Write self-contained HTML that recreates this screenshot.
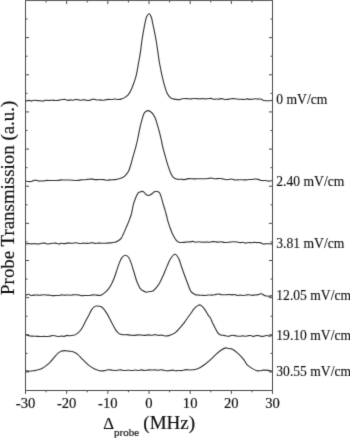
<!DOCTYPE html>
<html><head><meta charset="utf-8"><style>
html,body{margin:0;padding:0;background:#fff;}
body{width:350px;height:438px;overflow:hidden;}
svg{display:block;will-change:transform;}
text{font-family:"Liberation Serif",serif;fill:#111;stroke:#111;stroke-width:0.18px;}
.rl text{stroke-width:0.12px;}
</style></head><body>
<svg width="350" height="438" viewBox="0 0 350 438">
<defs><filter id="b" filterUnits="userSpaceOnUse" x="0" y="0" width="350" height="438"><feConvolveMatrix order="3" kernelMatrix="0.01134 0.08382 0.01134 0.08382 0.61935 0.08382 0.01134 0.08382 0.01134" divisor="1" edgeMode="none"/></filter></defs>
<rect width="350" height="438" fill="#fff"/>
<g filter="url(#b)">
<path d="M25.50,0.50 H272.50 V390.50 H25.50 Z" fill="none" stroke="#484848" stroke-width="1"/>
<path d="M25.50,390.50V393.90 M25.50,0.50V4.10 M46.08,390.50V392.30 M46.08,0.50V2.50 M66.67,390.50V393.90 M66.67,0.50V4.10 M87.25,390.50V392.30 M87.25,0.50V2.50 M107.83,390.50V393.90 M107.83,0.50V4.10 M128.42,390.50V392.30 M128.42,0.50V2.50 M149.00,390.50V393.90 M149.00,0.50V4.10 M169.58,390.50V392.30 M169.58,0.50V2.50 M190.17,390.50V393.90 M190.17,0.50V4.10 M210.75,390.50V392.30 M210.75,0.50V2.50 M231.33,390.50V393.90 M231.33,0.50V4.10 M251.92,390.50V392.30 M251.92,0.50V2.50 M272.50,390.50V393.90 M272.50,0.50V4.10 M25.50,0.50H29.10 M272.50,0.50H268.90 M25.50,19.07H27.50 M272.50,19.07H270.50 M25.50,37.64H29.10 M272.50,37.64H268.90 M25.50,56.21H27.50 M272.50,56.21H270.50 M25.50,74.79H29.10 M272.50,74.79H268.90 M25.50,93.36H27.50 M272.50,93.36H270.50 M25.50,111.93H29.10 M272.50,111.93H268.90 M25.50,130.50H27.50 M272.50,130.50H270.50 M25.50,149.07H29.10 M272.50,149.07H268.90 M25.50,167.64H27.50 M272.50,167.64H270.50 M25.50,186.21H29.10 M272.50,186.21H268.90 M25.50,204.79H27.50 M272.50,204.79H270.50 M25.50,223.36H29.10 M272.50,223.36H268.90 M25.50,241.93H27.50 M272.50,241.93H270.50 M25.50,260.50H29.10 M272.50,260.50H268.90 M25.50,279.07H27.50 M272.50,279.07H270.50 M25.50,297.64H29.10 M272.50,297.64H268.90 M25.50,316.21H27.50 M272.50,316.21H270.50 M25.50,334.79H29.10 M272.50,334.79H268.90 M25.50,353.36H27.50 M272.50,353.36H270.50 M25.50,371.93H29.10 M272.50,371.93H268.90 M25.50,390.50H27.50 M272.50,390.50H270.50 M25.50,390.50V393.90" fill="none" stroke="#484848" stroke-width="1"/>
<path d="M26.00,101.00C26.44,100.89 27.78,100.38 28.67,100.36C29.56,100.35 30.44,100.93 31.33,100.92C32.22,100.90 32.56,100.32 34.00,100.30C35.44,100.28 38.52,100.69 40.00,100.80C41.48,100.91 41.90,101.06 42.86,100.98C43.81,100.89 44.76,100.39 45.71,100.30C46.67,100.21 47.62,100.45 48.57,100.45C49.52,100.45 50.48,100.30 51.43,100.29C52.38,100.28 53.33,100.37 54.29,100.40C55.24,100.42 56.19,100.50 57.14,100.43C58.10,100.37 59.08,100.15 60.00,100.00C60.92,99.85 61.78,99.64 62.67,99.55C63.56,99.46 64.44,99.33 65.33,99.47C66.22,99.60 67.11,100.28 68.00,100.35C68.89,100.42 69.78,99.92 70.67,99.90C71.56,99.88 72.44,100.34 73.33,100.26C74.22,100.17 75.11,99.47 76.00,99.41C76.89,99.35 77.78,99.76 78.67,99.89C79.56,100.02 80.44,100.23 81.33,100.19C82.22,100.15 83.11,99.60 84.00,99.64C84.89,99.68 85.78,100.30 86.67,100.42C87.56,100.54 88.44,100.54 89.33,100.37C90.22,100.20 91.11,99.57 92.00,99.40C92.89,99.24 93.78,99.30 94.67,99.39C95.56,99.48 96.44,99.87 97.33,99.95C98.22,100.04 99.06,99.84 100.00,99.90C100.94,99.96 102.00,100.36 103.00,100.32C104.00,100.27 105.00,99.79 106.00,99.64C107.00,99.48 108.00,99.40 109.00,99.39C110.00,99.37 111.00,99.60 112.00,99.55C113.00,99.49 114.00,99.06 115.00,99.05C116.00,99.04 117.00,99.49 118.00,99.50C119.00,99.51 119.90,99.42 121.00,99.10C122.10,98.78 123.38,98.35 124.60,97.60C125.82,96.85 127.17,96.00 128.30,94.60C129.43,93.20 130.42,91.30 131.40,89.20C132.38,87.10 133.37,84.43 134.20,82.00C135.03,79.57 135.63,78.02 136.40,74.60C137.17,71.18 138.10,65.42 138.80,61.50C139.50,57.58 140.12,54.35 140.60,51.10C141.08,47.85 141.27,45.05 141.70,42.00C142.13,38.95 142.67,35.85 143.20,32.80C143.73,29.75 144.35,26.33 144.90,23.70C145.45,21.07 145.80,18.67 146.50,17.00C147.20,15.33 148.27,13.57 149.10,13.70C149.93,13.83 150.85,15.95 151.50,17.80C152.15,19.65 152.47,22.30 153.00,24.80C153.53,27.30 154.13,29.93 154.70,32.80C155.27,35.67 155.92,39.10 156.40,42.00C156.88,44.90 157.10,46.78 157.60,50.20C158.10,53.62 158.88,59.37 159.40,62.50C159.92,65.63 160.28,66.90 160.70,69.00C161.12,71.10 161.28,72.42 161.90,75.10C162.52,77.78 163.57,82.17 164.40,85.10C165.23,88.03 165.95,90.65 166.90,92.70C167.85,94.75 169.15,96.40 170.10,97.40C171.05,98.40 171.62,98.37 172.60,98.70C173.58,99.03 174.85,99.25 176.00,99.40C177.15,99.55 178.50,99.70 179.50,99.60C180.50,99.50 181.08,98.98 182.00,98.80C182.92,98.62 184.00,98.52 185.00,98.51C186.00,98.50 187.00,98.71 188.00,98.77C189.00,98.82 190.00,98.88 191.00,98.85C192.00,98.81 193.00,98.62 194.00,98.57C195.00,98.53 196.00,98.53 197.00,98.59C198.00,98.64 199.05,98.90 200.00,98.90C200.95,98.90 201.82,98.60 202.73,98.60C203.64,98.60 204.55,98.86 205.45,98.87C206.36,98.89 207.27,98.77 208.18,98.70C209.09,98.62 210.00,98.31 210.91,98.41C211.82,98.51 212.73,99.22 213.64,99.32C214.55,99.42 215.45,99.05 216.36,99.02C217.27,98.98 218.18,99.19 219.09,99.12C220.00,99.06 220.91,98.56 221.82,98.63C222.73,98.69 223.64,99.40 224.55,99.52C225.45,99.65 226.36,99.47 227.27,99.39C228.18,99.30 229.08,99.13 230.00,99.00C230.92,98.87 231.88,98.61 232.82,98.58C233.76,98.55 234.70,98.71 235.64,98.82C236.58,98.93 237.52,99.17 238.45,99.24C239.39,99.31 240.33,99.19 241.27,99.23C242.21,99.27 243.15,99.53 244.09,99.48C245.03,99.43 245.97,98.93 246.91,98.91C247.85,98.89 248.79,99.32 249.73,99.36C250.67,99.41 251.61,99.28 252.55,99.19C253.48,99.09 254.42,98.80 255.36,98.78C256.30,98.77 257.24,99.06 258.18,99.10C259.12,99.13 260.20,98.80 261.00,99.00C261.80,99.20 262.17,100.01 263.00,100.30C263.83,100.59 265.00,100.68 266.00,100.75C267.00,100.83 268.00,100.81 269.00,100.75C270.00,100.69 271.50,100.46 272.00,100.40" fill="none" stroke="#303030" stroke-width="1.1" stroke-linejoin="round"/>
<path d="M26.00,181.10C26.44,181.17 27.78,181.48 28.67,181.53C29.56,181.59 30.44,181.65 31.33,181.46C32.22,181.27 33.11,180.59 34.00,180.41C34.89,180.23 35.78,180.26 36.67,180.38C37.56,180.50 38.44,181.04 39.33,181.14C40.22,181.23 41.11,181.01 42.00,180.96C42.89,180.91 43.78,180.92 44.67,180.82C45.56,180.72 46.44,180.41 47.33,180.36C48.22,180.30 49.08,180.47 50.00,180.50C50.92,180.53 51.90,180.55 52.86,180.55C53.81,180.54 54.76,180.50 55.71,180.47C56.67,180.45 57.62,180.48 58.57,180.38C59.52,180.27 60.48,179.89 61.43,179.84C62.38,179.79 63.33,180.05 64.29,180.07C65.24,180.09 66.19,179.97 67.14,179.95C68.10,179.94 69.06,179.96 70.00,180.00C70.94,180.04 71.85,180.12 72.78,180.20C73.70,180.28 74.63,180.43 75.56,180.46C76.48,180.48 77.41,180.46 78.33,180.36C79.26,180.26 80.19,179.98 81.11,179.87C82.04,179.76 82.96,179.78 83.89,179.72C84.81,179.65 85.74,179.57 86.67,179.48C87.59,179.39 88.52,179.24 89.44,179.18C90.37,179.12 91.30,179.05 92.22,179.12C93.15,179.19 94.04,179.52 95.00,179.60C95.96,179.68 97.00,179.63 98.00,179.62C99.00,179.61 100.00,179.52 101.00,179.52C102.00,179.52 103.00,179.52 104.00,179.65C105.00,179.77 106.00,180.23 107.00,180.27C108.00,180.31 108.67,180.01 110.00,179.90C111.33,179.79 113.33,179.83 115.00,179.60C116.67,179.37 118.73,178.85 120.00,178.50C121.27,178.15 121.77,177.93 122.60,177.50C123.43,177.07 124.02,176.93 125.00,175.90C125.98,174.87 127.55,173.12 128.50,171.30C129.45,169.48 129.95,167.43 130.70,165.00C131.45,162.57 132.18,159.58 133.00,156.70C133.82,153.82 134.82,150.65 135.60,147.70C136.38,144.75 137.00,142.23 137.70,139.00C138.40,135.77 139.13,131.37 139.80,128.30C140.47,125.23 141.00,123.08 141.70,120.60C142.40,118.12 143.25,114.97 144.00,113.40C144.75,111.83 145.53,111.67 146.20,111.20C146.87,110.73 147.33,110.55 148.00,110.60C148.67,110.65 149.43,111.00 150.20,111.50C150.97,112.00 151.77,112.52 152.60,113.60C153.43,114.68 154.45,116.30 155.20,118.00C155.95,119.70 156.45,121.67 157.10,123.80C157.75,125.93 158.45,128.33 159.10,130.80C159.75,133.27 160.37,135.78 161.00,138.60C161.63,141.42 162.17,144.68 162.90,147.70C163.63,150.72 164.55,153.70 165.40,156.70C166.25,159.70 167.13,163.02 168.00,165.70C168.87,168.38 169.75,170.90 170.60,172.80C171.45,174.70 172.02,176.02 173.10,177.10C174.18,178.18 175.85,178.95 177.10,179.30C178.35,179.65 179.35,179.15 180.60,179.20C181.85,179.25 183.27,179.70 184.60,179.60C185.93,179.50 186.98,178.72 188.60,178.60C190.22,178.48 192.40,178.88 194.30,178.90C196.20,178.92 198.55,178.73 200.00,178.70C201.45,178.67 202.00,178.72 203.00,178.73C204.00,178.74 205.00,178.82 206.00,178.77C207.00,178.71 208.00,178.51 209.00,178.41C210.00,178.31 211.00,178.13 212.00,178.18C213.00,178.22 214.04,178.63 215.00,178.70C215.96,178.77 216.85,178.65 217.78,178.62C218.70,178.59 219.63,178.45 220.56,178.52C221.48,178.59 222.41,178.85 223.33,179.04C224.26,179.24 225.19,179.63 226.11,179.69C227.04,179.76 227.96,179.56 228.89,179.45C229.81,179.33 230.74,178.94 231.67,179.02C232.59,179.09 233.52,179.76 234.44,179.91C235.37,180.06 236.30,179.95 237.22,179.92C238.15,179.88 239.04,179.72 240.00,179.70C240.96,179.68 242.00,179.79 243.00,179.82C244.00,179.85 245.00,179.91 246.00,179.87C247.00,179.83 248.00,179.64 249.00,179.57C250.00,179.50 251.00,179.55 252.00,179.46C253.00,179.36 253.94,179.02 255.00,179.00C256.06,178.98 257.22,179.08 258.33,179.34C259.44,179.59 260.56,180.34 261.67,180.53C262.78,180.72 263.86,180.40 265.00,180.50C266.14,180.60 267.33,181.07 268.50,181.11C269.67,181.14 271.42,180.77 272.00,180.70" fill="none" stroke="#303030" stroke-width="1.1" stroke-linejoin="round"/>
<path d="M26.00,243.90C26.44,243.85 27.78,243.58 28.67,243.58C29.56,243.58 30.44,243.87 31.33,243.88C32.22,243.90 33.11,243.66 34.00,243.66C34.89,243.66 35.78,243.85 36.67,243.88C37.56,243.92 38.44,243.98 39.33,243.87C40.22,243.76 41.11,243.35 42.00,243.22C42.89,243.10 43.78,243.00 44.67,243.13C45.56,243.26 46.44,243.93 47.33,244.00C48.22,244.08 49.08,243.72 50.00,243.60C50.92,243.48 51.90,243.34 52.86,243.26C53.81,243.19 54.76,243.05 55.71,243.16C56.67,243.28 57.62,243.91 58.57,243.93C59.52,243.95 60.48,243.33 61.43,243.28C62.38,243.23 63.33,243.64 64.29,243.61C65.24,243.59 66.19,243.23 67.14,243.15C68.10,243.06 69.07,243.08 70.00,243.10C70.93,243.12 71.82,243.32 72.73,243.25C73.64,243.19 74.55,242.72 75.45,242.72C76.36,242.71 77.27,243.12 78.18,243.25C79.09,243.38 80.00,243.53 80.91,243.50C81.82,243.48 82.73,243.15 83.64,243.13C84.55,243.10 85.45,243.34 86.36,243.37C87.27,243.39 88.18,243.41 89.09,243.29C90.00,243.16 90.91,242.60 91.82,242.62C92.73,242.64 93.64,243.29 94.55,243.38C95.45,243.48 96.36,243.25 97.27,243.20C98.18,243.15 98.71,243.08 100.00,243.10C101.29,243.12 103.23,243.33 105.00,243.30C106.77,243.27 108.95,243.08 110.60,242.90C112.25,242.72 113.62,242.57 114.90,242.20C116.18,241.83 117.23,241.38 118.30,240.70C119.37,240.02 120.45,239.23 121.30,238.10C122.15,236.97 122.62,235.60 123.40,233.90C124.18,232.20 125.13,229.90 126.00,227.90C126.87,225.90 127.75,224.05 128.60,221.90C129.45,219.75 130.48,217.05 131.10,215.00C131.72,212.95 131.92,211.37 132.30,209.60C132.68,207.83 132.83,206.37 133.40,204.40C133.97,202.43 134.93,199.67 135.70,197.80C136.47,195.93 137.23,194.18 138.00,193.20C138.77,192.22 139.58,192.20 140.30,191.90C141.02,191.60 141.60,191.28 142.30,191.40C143.00,191.52 143.88,192.08 144.50,192.60C145.12,193.12 145.37,194.02 146.00,194.50C146.63,194.98 147.53,195.47 148.30,195.50C149.07,195.53 149.88,195.08 150.60,194.70C151.32,194.32 151.95,193.68 152.60,193.20C153.25,192.72 153.85,192.12 154.50,191.80C155.15,191.48 155.87,191.28 156.50,191.30C157.13,191.32 157.77,191.60 158.30,191.90C158.83,192.20 159.18,192.15 159.70,193.10C160.22,194.05 160.83,195.80 161.40,197.60C161.97,199.40 162.52,201.90 163.10,203.90C163.68,205.90 164.35,207.75 164.90,209.60C165.45,211.45 165.87,212.95 166.40,215.00C166.93,217.05 167.43,219.62 168.10,221.90C168.77,224.18 169.53,226.42 170.40,228.70C171.27,230.98 172.35,233.70 173.30,235.60C174.25,237.50 175.15,239.00 176.10,240.10C177.05,241.20 177.75,241.82 179.00,242.20C180.25,242.58 182.30,242.44 183.60,242.40C184.90,242.36 185.73,242.01 186.80,241.93C187.87,241.85 189.00,241.99 190.00,241.90C191.00,241.81 191.85,241.30 192.78,241.36C193.70,241.42 194.63,242.18 195.56,242.26C196.48,242.33 197.41,241.84 198.33,241.80C199.26,241.77 200.19,241.98 201.11,242.05C202.04,242.12 202.96,242.21 203.89,242.21C204.81,242.20 205.74,242.00 206.67,242.00C207.59,242.00 208.52,242.27 209.44,242.21C210.37,242.14 211.30,241.69 212.22,241.61C213.15,241.52 214.04,241.62 215.00,241.70C215.96,241.78 217.00,242.09 218.00,242.11C219.00,242.13 220.00,241.75 221.00,241.80C222.00,241.85 223.00,242.31 224.00,242.42C225.00,242.53 226.00,242.49 227.00,242.44C228.00,242.38 228.94,242.20 230.00,242.10C231.06,242.00 232.22,241.84 233.33,241.82C234.44,241.81 235.56,241.90 236.67,242.03C237.78,242.16 238.97,242.56 240.00,242.60C241.03,242.64 241.90,242.20 242.86,242.29C243.81,242.37 244.76,243.07 245.71,243.11C246.67,243.15 247.62,242.59 248.57,242.53C249.52,242.47 250.48,242.76 251.43,242.74C252.38,242.71 253.33,242.40 254.29,242.38C255.24,242.36 256.19,242.57 257.14,242.61C258.10,242.64 259.02,242.38 260.00,242.60C260.98,242.82 262.00,243.70 263.00,243.90C264.00,244.10 265.00,243.80 266.00,243.77C267.00,243.75 268.00,243.72 269.00,243.74C270.00,243.76 271.50,243.87 272.00,243.90" fill="none" stroke="#303030" stroke-width="1.1" stroke-linejoin="round"/>
<path d="M26.00,295.30C26.40,295.13 27.57,294.27 28.40,294.30C29.23,294.33 30.11,295.36 31.00,295.50C31.89,295.64 32.81,295.25 33.71,295.17C34.62,295.08 35.52,294.96 36.43,294.98C37.33,294.99 38.24,295.26 39.14,295.26C40.05,295.25 40.95,295.02 41.86,294.95C42.76,294.87 43.67,294.78 44.57,294.81C45.48,294.84 46.38,295.07 47.29,295.13C48.19,295.20 49.07,295.11 50.00,295.20C50.93,295.29 51.90,295.60 52.86,295.66C53.81,295.71 54.76,295.56 55.71,295.53C56.67,295.50 57.62,295.60 58.57,295.49C59.52,295.39 60.48,294.94 61.43,294.89C62.38,294.85 63.33,295.23 64.29,295.24C65.24,295.25 66.19,294.96 67.14,294.95C68.10,294.95 69.06,295.22 70.00,295.20C70.94,295.18 71.87,294.91 72.81,294.84C73.75,294.77 74.68,294.76 75.62,294.77C76.55,294.77 77.49,294.74 78.43,294.89C79.36,295.04 80.30,295.56 81.24,295.67C82.17,295.78 83.11,295.58 84.05,295.56C84.98,295.54 85.92,295.54 86.85,295.54C87.79,295.53 88.73,295.64 89.66,295.53C90.60,295.42 91.54,294.95 92.47,294.86C93.41,294.77 94.35,294.91 95.28,294.99C96.22,295.07 97.15,295.30 98.09,295.34C99.03,295.37 99.93,295.52 100.90,295.20C101.87,294.88 102.77,294.30 103.90,293.40C105.03,292.50 106.53,291.15 107.70,289.80C108.87,288.45 109.83,287.22 110.90,285.30C111.97,283.38 113.13,280.75 114.10,278.30C115.07,275.85 115.83,273.17 116.70,270.60C117.57,268.03 118.43,265.05 119.30,262.90C120.17,260.75 120.90,258.97 121.90,257.70C122.90,256.43 124.13,255.30 125.30,255.30C126.47,255.30 127.87,256.23 128.90,257.70C129.93,259.17 130.63,261.63 131.50,264.10C132.37,266.57 133.25,269.72 134.10,272.50C134.95,275.28 135.65,278.23 136.60,280.80C137.55,283.37 138.80,286.28 139.80,287.90C140.80,289.52 141.50,289.78 142.60,290.50C143.70,291.22 145.23,292.03 146.40,292.20C147.57,292.37 148.52,291.68 149.60,291.50C150.68,291.32 151.82,291.70 152.90,291.10C153.98,290.50 155.03,289.18 156.10,287.90C157.17,286.62 158.12,285.48 159.30,283.40C160.48,281.32 161.92,278.23 163.20,275.40C164.48,272.57 165.78,269.17 167.00,266.40C168.22,263.63 169.18,260.82 170.50,258.80C171.82,256.78 173.52,254.30 174.90,254.30C176.28,254.30 177.68,256.68 178.80,258.80C179.92,260.92 180.57,264.05 181.60,267.00C182.63,269.95 183.85,273.38 185.00,276.50C186.15,279.62 187.52,283.23 188.50,285.70C189.48,288.17 189.83,289.85 190.90,291.30C191.97,292.75 193.64,293.77 194.90,294.40C196.16,295.03 197.27,294.96 198.45,295.11C199.63,295.26 200.88,295.23 202.00,295.30C203.12,295.37 204.13,295.59 205.20,295.54C206.27,295.49 207.22,295.07 208.40,295.00C209.58,294.93 210.97,295.22 212.25,295.12C213.53,295.02 215.02,294.58 216.10,294.40C217.18,294.22 217.87,293.98 218.76,294.02C219.64,294.07 220.53,294.54 221.41,294.67C222.30,294.81 223.18,294.81 224.07,294.82C224.95,294.83 225.84,294.78 226.72,294.72C227.61,294.65 228.49,294.41 229.38,294.43C230.26,294.45 231.15,294.83 232.03,294.84C232.92,294.85 233.80,294.38 234.69,294.49C235.57,294.60 236.46,295.40 237.34,295.50C238.23,295.60 239.06,295.11 240.00,295.10C240.94,295.09 242.00,295.46 243.00,295.45C244.00,295.44 245.00,295.17 246.00,295.05C247.00,294.93 248.00,294.68 249.00,294.73C250.00,294.78 251.00,295.32 252.00,295.35C253.00,295.38 254.00,295.02 255.00,294.93C256.00,294.84 256.95,295.00 258.00,294.80C259.05,294.60 260.13,293.53 261.30,293.70C262.47,293.87 263.80,295.38 265.00,295.80C266.20,296.22 267.33,296.22 268.50,296.22C269.67,296.22 271.42,295.87 272.00,295.80" fill="none" stroke="#303030" stroke-width="1.1" stroke-linejoin="round"/>
<path d="M26.00,334.80C26.67,335.00 28.86,335.78 30.00,336.00C31.14,336.22 31.90,336.10 32.86,336.15C33.81,336.20 34.76,336.26 35.71,336.29C36.67,336.33 37.62,336.33 38.57,336.37C39.52,336.41 40.48,336.55 41.43,336.54C42.38,336.54 43.33,336.33 44.29,336.34C45.24,336.34 46.19,336.59 47.14,336.55C48.10,336.51 49.05,336.27 50.00,336.10C50.95,335.93 51.90,335.56 52.86,335.54C53.81,335.52 54.76,335.82 55.71,335.98C56.67,336.13 57.62,336.44 58.57,336.46C59.52,336.48 60.48,336.11 61.43,336.09C62.38,336.07 63.33,336.44 64.29,336.33C65.24,336.21 66.19,335.51 67.14,335.42C68.10,335.33 68.96,335.82 70.00,335.80C71.04,335.78 72.35,335.58 73.40,335.30C74.45,335.02 75.28,334.73 76.30,334.10C77.32,333.47 78.43,332.68 79.50,331.50C80.57,330.32 81.63,328.82 82.70,327.00C83.77,325.18 84.83,322.63 85.90,320.60C86.97,318.57 88.13,316.63 89.10,314.80C90.07,312.97 90.73,311.00 91.70,309.60C92.67,308.20 94.00,307.00 94.90,306.40C95.80,305.80 96.13,306.00 97.10,306.00C98.07,306.00 99.67,306.00 100.70,306.40C101.73,306.80 102.33,307.32 103.30,308.40C104.27,309.48 105.53,311.40 106.50,312.90C107.47,314.40 108.13,315.58 109.10,317.40C110.07,319.22 111.23,321.77 112.30,323.80C113.37,325.83 114.43,328.00 115.50,329.60C116.57,331.20 117.62,332.57 118.70,333.40C119.78,334.23 121.02,334.38 122.00,334.60C122.98,334.82 123.73,334.72 124.60,334.73C125.47,334.73 126.33,334.57 127.20,334.64C128.07,334.71 128.93,335.01 129.80,335.13C130.67,335.24 131.53,335.28 132.40,335.32C133.27,335.37 134.01,335.48 135.00,335.40C135.99,335.32 137.22,334.92 138.33,334.86C139.44,334.81 140.56,335.00 141.67,335.09C142.78,335.18 143.89,335.43 145.00,335.40C146.11,335.37 147.22,334.90 148.33,334.89C149.44,334.88 150.56,335.37 151.67,335.32C152.78,335.28 153.89,334.59 155.00,334.60C156.11,334.61 157.22,335.27 158.33,335.36C159.44,335.45 160.56,335.05 161.67,335.16C162.78,335.27 163.78,335.93 165.00,336.00C166.22,336.07 167.78,335.88 169.00,335.60C170.22,335.32 171.20,334.86 172.30,334.33C173.40,333.79 174.45,333.34 175.60,332.40C176.75,331.46 177.88,330.15 179.20,328.70C180.52,327.25 182.20,325.37 183.50,323.70C184.80,322.03 185.82,320.37 187.00,318.70C188.18,317.03 189.40,315.37 190.60,313.70C191.80,312.03 193.02,310.05 194.20,308.70C195.38,307.35 196.68,306.22 197.70,305.60C198.72,304.98 199.18,304.47 200.30,305.00C201.42,305.53 203.12,307.15 204.40,308.80C205.68,310.45 207.02,313.42 208.00,314.90C208.98,316.38 209.53,316.37 210.30,317.70C211.07,319.03 211.83,321.28 212.60,322.90C213.37,324.52 214.05,325.78 214.90,327.40C215.75,329.02 216.75,331.35 217.70,332.60C218.65,333.85 219.55,334.43 220.60,334.90C221.65,335.37 222.67,335.17 224.00,335.40C225.33,335.63 227.27,336.33 228.60,336.30C229.93,336.27 230.67,335.25 232.00,335.20C233.33,335.15 235.27,335.82 236.60,336.00C237.93,336.18 238.99,336.33 240.00,336.30C241.01,336.27 241.78,335.84 242.67,335.84C243.56,335.85 244.44,336.33 245.33,336.31C246.22,336.29 247.11,335.85 248.00,335.71C248.89,335.58 249.78,335.40 250.67,335.52C251.56,335.64 252.44,336.40 253.33,336.42C254.22,336.44 255.11,335.77 256.00,335.63C256.89,335.49 257.78,335.46 258.67,335.58C259.56,335.70 260.44,336.26 261.33,336.36C262.22,336.46 263.11,336.33 264.00,336.18C264.89,336.04 265.78,335.49 266.67,335.48C267.56,335.48 268.44,336.15 269.33,336.17C270.22,336.19 271.56,335.69 272.00,335.60" fill="none" stroke="#303030" stroke-width="1.1" stroke-linejoin="round"/>
<path d="M26.00,370.80C26.62,370.87 28.33,371.23 29.70,371.20C31.07,371.17 32.80,370.83 34.20,370.60C35.60,370.37 36.73,370.18 38.10,369.80C39.47,369.42 41.00,369.03 42.40,368.30C43.80,367.57 45.17,366.47 46.50,365.40C47.83,364.33 49.12,363.23 50.40,361.90C51.68,360.57 52.93,358.87 54.20,357.40C55.47,355.93 56.83,354.13 58.00,353.10C59.17,352.07 60.13,351.62 61.20,351.20C62.27,350.78 63.17,350.62 64.40,350.60C65.63,350.58 67.05,350.87 68.60,351.10C70.15,351.33 72.18,351.45 73.70,352.00C75.22,352.55 76.17,353.12 77.70,354.40C79.23,355.68 81.03,357.87 82.90,359.70C84.77,361.53 87.00,363.88 88.90,365.40C90.80,366.92 92.83,368.00 94.30,368.80C95.77,369.60 96.60,369.82 97.75,370.17C98.90,370.52 100.06,370.82 101.20,370.90C102.34,370.98 103.47,370.85 104.60,370.65C105.73,370.45 106.86,369.80 108.00,369.70C109.14,369.60 110.30,369.95 111.45,370.08C112.60,370.22 113.82,370.48 114.90,370.50C115.98,370.52 116.91,370.30 117.92,370.20C118.93,370.09 119.93,369.81 120.94,369.87C121.95,369.93 122.95,370.49 123.96,370.56C124.97,370.63 125.97,370.35 126.98,370.31C127.99,370.26 129.03,370.26 130.00,370.30C130.97,370.34 131.85,370.58 132.78,370.54C133.70,370.50 134.63,370.08 135.56,370.07C136.48,370.06 137.41,370.50 138.33,370.46C139.26,370.43 140.19,369.88 141.11,369.87C142.04,369.86 142.96,370.34 143.89,370.41C144.81,370.48 145.74,370.37 146.67,370.29C147.59,370.20 148.52,369.94 149.44,369.89C150.37,369.84 151.30,369.99 152.22,369.99C153.15,369.99 154.04,369.86 155.00,369.90C155.96,369.94 157.00,370.24 158.00,370.22C159.00,370.20 160.00,369.79 161.00,369.80C162.00,369.82 163.00,370.17 164.00,370.32C165.00,370.47 166.00,370.69 167.00,370.72C168.00,370.75 169.02,370.59 170.00,370.50C170.98,370.41 171.90,370.14 172.86,370.17C173.81,370.20 174.76,370.64 175.71,370.69C176.67,370.74 177.62,370.51 178.57,370.49C179.52,370.47 180.48,370.68 181.43,370.59C182.38,370.51 183.33,370.12 184.29,369.96C185.24,369.80 186.19,369.62 187.14,369.62C188.10,369.63 188.67,370.02 190.00,370.00C191.33,369.98 193.38,369.93 195.10,369.50C196.82,369.07 198.58,368.32 200.30,367.40C202.02,366.48 203.68,365.28 205.40,364.00C207.12,362.72 208.88,361.27 210.60,359.70C212.32,358.13 213.98,356.17 215.70,354.60C217.42,353.03 219.23,351.42 220.90,350.30C222.57,349.18 224.38,348.16 225.70,347.90C227.02,347.64 227.80,348.56 228.85,348.73C229.90,348.90 230.76,348.36 232.00,348.90C233.24,349.44 235.13,351.10 236.30,352.00C237.47,352.90 237.82,353.12 239.00,354.30C240.18,355.48 242.03,357.33 243.40,359.10C244.77,360.87 245.82,363.40 247.20,364.90C248.58,366.40 250.08,367.13 251.70,368.10C253.32,369.07 255.50,370.26 256.90,370.70C258.30,371.14 259.03,370.84 260.10,370.74C261.17,370.64 261.92,370.16 263.30,370.10C264.68,370.04 266.95,370.20 268.40,370.40C269.85,370.60 271.40,371.15 272.00,371.30" fill="none" stroke="#303030" stroke-width="1.1" stroke-linejoin="round"/>
</g>
<g filter="url(#b)">
<g font-size="14.6">
<text x="25.50" y="407.5" text-anchor="middle">-30</text>
<text x="66.67" y="407.5" text-anchor="middle">-20</text>
<text x="107.83" y="407.5" text-anchor="middle">-10</text>
<text x="149.00" y="407.5" text-anchor="middle">0</text>
<text x="190.17" y="407.5" text-anchor="middle">10</text>
<text x="231.33" y="407.5" text-anchor="middle">20</text>
<text x="272.50" y="407.5" text-anchor="middle">30</text>
</g>
<g font-size="13.6" class="rl">
<text x="276.3" y="103.50">0 mV/cm</text>
<text x="276.3" y="185.60">2.40 mV/cm</text>
<text x="276.3" y="247.70">3.81 mV/cm</text>
<text x="276.3" y="300.40">12.05 mV/cm</text>
<text x="276.3" y="340.20">19.10 mV/cm</text>
<text x="276.3" y="375.50">30.55 mV/cm</text>
</g>
<text transform="translate(13.7,294.9) rotate(-90)" font-size="18.9">Probe Transmission (a.u.)</text>
<text x="103.2" y="428.7" font-size="16.8">&#916;<tspan font-size="11" dy="7">probe</tspan></text>
<text transform="translate(143.3,428.6) scale(1.06,1)" font-size="18">(MHz)</text>
</g>
</svg>
</body></html>
